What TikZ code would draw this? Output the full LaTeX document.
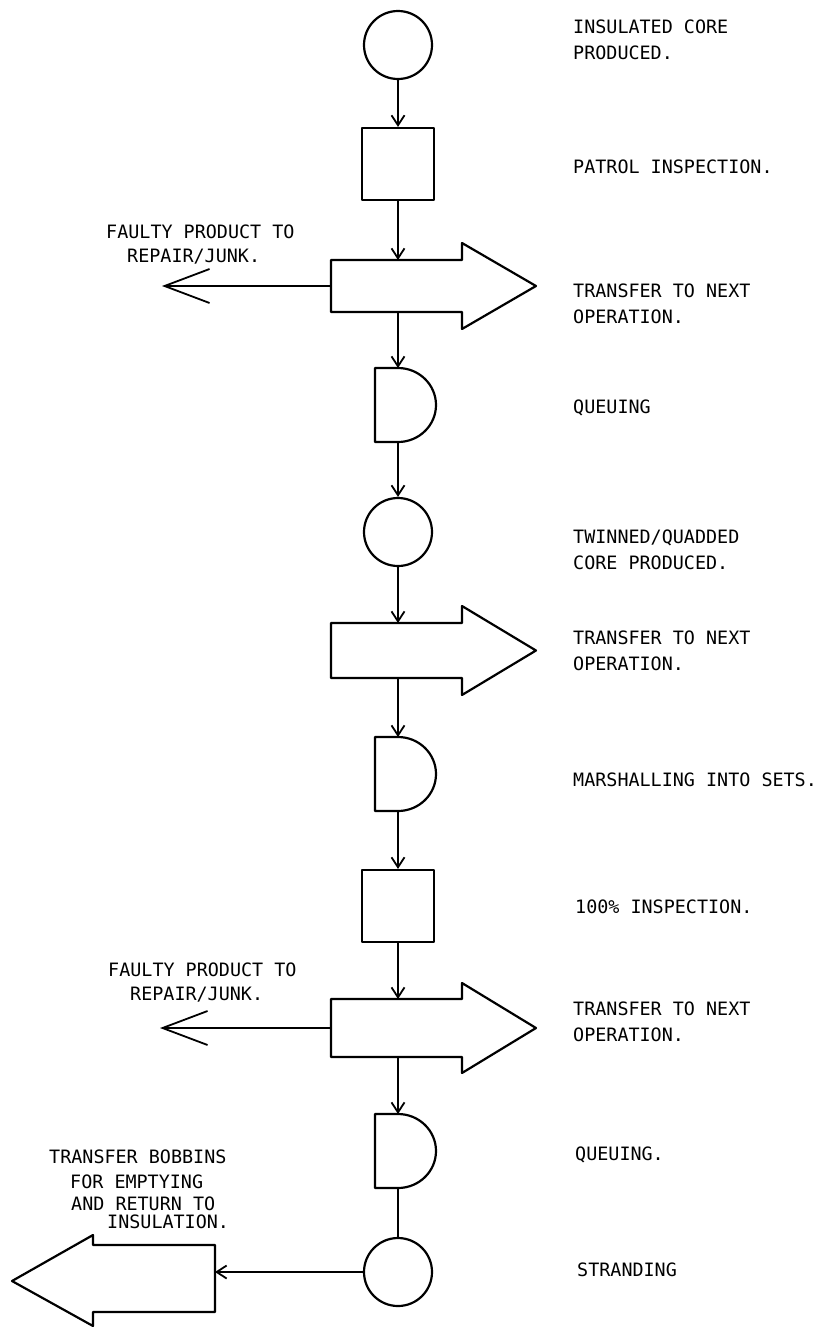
\documentclass[tikz,border=0pt]{standalone}
\usepackage{fontspec}
\newfontfamily\lpfont{DejaVu Sans Mono}
\usetikzlibrary{arrows.meta,calc}
\begin{document}
\begin{tikzpicture}[x=1pt,y=-1pt,
  shp/.style={draw, line width=2.2pt, line join=round},
  hidden/.style={inner sep=0pt, outer sep=0pt, draw=none},
  circ/.style={shp, circle, minimum size=68pt, inner sep=0pt},
  sq/.style={shp, rectangle, minimum width=72pt, minimum height=72pt, inner sep=0pt},
  conn/.style={line width=1.8pt, -{Straight Barb[length=10pt,width=13pt]}},
  plain/.style={line width=1.8pt},
  reject/.style={line width=1.8pt, -{Straight Barb[length=45pt,width=34pt]}},
  lbl/.style={font=\lpfont\fontsize{18.4}{26}\selectfont, inner sep=0pt, anchor=west, align=left},
]
\useasboundingbox (0,0) rectangle (824,1328);
\coordinate (sp) at (398,0);

% shapes
\node[circ] (c1) at (398,45) {};
\node[sq] (s1) at (398,164) {};
\node[hidden, minimum width=131pt, minimum height=52pt] (t1) at (396.5,286) {};
\draw[shp] (t1.north east) -- ++(0,-17) -- ($(t1.east)+(74,0)$) -- ($(t1.south east)+(0,17)$) -- (t1.south east) -- (t1.south west) -- (t1.north west) -- cycle;
\node[hidden, minimum width=61pt, minimum height=74pt] (d1) at (405.5,405) {};
\draw[shp] (d1.south west) -- (d1.north west) -- ++(23,0) arc[start angle=90, end angle=-90, x radius=38pt, y radius=37pt] -- cycle;
\node[circ] (c2) at (398,532) {};
\node[hidden, minimum width=131pt, minimum height=55pt] (t2) at (396.5,650.5) {};
\draw[shp] (t2.north east) -- ++(0,-17) -- ($(t2.east)+(74,0)$) -- ($(t2.south east)+(0,17)$) -- (t2.south east) -- (t2.south west) -- (t2.north west) -- cycle;
\node[hidden, minimum width=61pt, minimum height=74pt] (d2) at (405.5,774) {};
\draw[shp] (d2.south west) -- (d2.north west) -- ++(23,0) arc[start angle=90, end angle=-90, x radius=38pt, y radius=37pt] -- cycle;
\node[sq] (s2) at (398,906) {};
\node[hidden, minimum width=131pt, minimum height=58pt] (t3) at (396.5,1028) {};
\draw[shp] (t3.north east) -- ++(0,-16) -- ($(t3.east)+(74,0)$) -- ($(t3.south east)+(0,16)$) -- (t3.south east) -- (t3.south west) -- (t3.north west) -- cycle;
\node[hidden, minimum width=61pt, minimum height=74pt] (d3) at (405.5,1151) {};
\draw[shp] (d3.south west) -- (d3.north west) -- ++(23,0) arc[start angle=90, end angle=-90, x radius=38pt, y radius=37pt] -- cycle;
\node[circ] (c3) at (398,1272) {};
\node[hidden, minimum width=122pt, minimum height=67pt] (lb) at (154,1278.5) {};
\draw[shp] (lb.north east) -- (lb.north west) -- ++(0,-10) -- (12,1281) -- (93,1326) -- (lb.south west) -- (lb.south east) -- cycle;

% connectors
\draw[conn] (c1) -- (s1);
\draw[conn] (s1) -- (sp |- t1.north);
\draw[conn] (sp |- t1.south) -- (sp |- d1.north);
\draw[conn] (sp |- d1.south) -- (c2);
\draw[conn] (c2) -- (sp |- t2.north);
\draw[conn] (sp |- t2.south) -- (sp |- d2.north);
\draw[conn] (sp |- d2.south) -- (s2);
\draw[conn] (s2) -- (sp |- t3.north);
\draw[conn] (sp |- t3.south) -- (sp |- d3.north);
\draw[plain] (sp |- d3.south) -- (c3);
\draw[conn] (c3.west) -- (c3.west -| lb.east);
\coordinate (f1) at (162,286);
\draw[reject] (t1.west) -- (f1);
\coordinate (f3) at (160,1028);
\draw[reject] (t3.west) -- (f3);

% labels
\node[lbl] (l1) at (573,40) {INSULATED CORE\\PRODUCED.};
\node[lbl] (l2) at (573,167) {PATROL INSPECTION.};
\node[lbl] (l3) at (573,304) {TRANSFER TO NEXT\\OPERATION.};
\node[lbl] (l4) at (573,408) {QUEUING};
\node[lbl] (l5) at (573,550) {TWINNED/QUADDED\\CORE PRODUCED.};
\node[lbl] (l6) at (573,651) {TRANSFER TO NEXT\\OPERATION.};
\node[lbl] (l7) at (573,780) {MARSHALLING INTO SETS.};
\node[lbl] (l8) at (575,907) {100\% INSPECTION.};
\node[lbl] (l9) at (573,1022) {TRANSFER TO NEXT\\OPERATION.};
\node[lbl] (l10) at (575,1155) {QUEUING.};
\node[lbl] (l11) at (577,1270) {STRANDING};
\node[lbl] (fa1) at (106,232) {FAULTY PRODUCT TO};
\node[lbl] (fb1) at (127,257) {REPAIR/JUNK.};
\node[lbl] (fa2) at (108,970) {FAULTY PRODUCT TO};
\node[lbl] (fb2) at (130,995) {REPAIR/JUNK.};
\node[lbl] (bb1) at (49,1157) {TRANSFER BOBBINS};
\node[lbl] (bb2) at (70,1182) {FOR EMPTYING};
\node[lbl] (bb3) at (71,1204) {AND RETURN TO};
\node[lbl] (bb4) at (107,1222) {INSULATION.};
\end{tikzpicture}
\end{document}
